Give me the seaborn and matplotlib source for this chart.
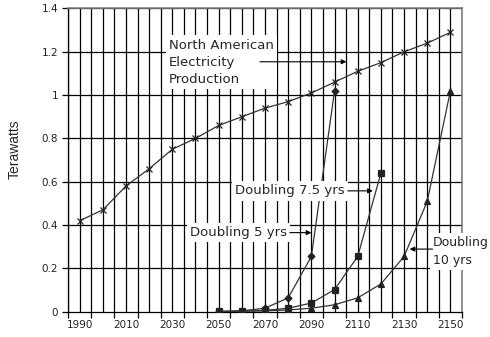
import matplotlib
matplotlib.use("Agg")
import matplotlib.pyplot as plt
import numpy as np
import pandas as pd
import seaborn as sns

# data
years = [1990, 2000, 2010, 2020, 2030, 2040, 2050, 2060, 2070, 2080,
         2090, 2100, 2110, 2120, 2130, 2140, 2150]
na_production = [0.42, 0.47, 0.58, 0.66, 0.75, 0.80, 0.86, 0.90, 0.94, 0.97,
                 1.01, 1.06, 1.11, 1.15, 1.20, 1.24, 1.29]

years_5 = [2050, 2060, 2070, 2080, 2090, 2100]
doubling_5 = [0.001, 0.004, 0.016, 0.064, 0.255, 1.02]

years_75 = [2050, 2060, 2070, 2080, 2090, 2100, 2110, 2120]
doubling_75 = [0.001, 0.0025, 0.006, 0.016, 0.040, 0.102, 0.255, 0.64]

years_10 = [2050, 2060, 2070, 2080, 2090, 2100, 2110, 2120, 2130, 2140, 2150]
doubling_10 = [0.001, 0.002, 0.004, 0.008, 0.016, 0.032, 0.064, 0.128,
               0.255, 0.51, 1.02]

x_labels = [str(y) for y in range(1990, 2151, 20)]
y_labels = ["0", "0.2", "0.4", "0.6", "0.8", "1", "1.2", "1.4"]

sns.set_theme(style="white")
plt.rcParams['font.family'] = ['DejaVu Sans']

fig = plt.figure(figsize=(4.9, 3.37), dpi=100)
ax = fig.add_axes([0.1388, 0.0751, 0.8041, 0.8997])

line_col = "#333333"
series = [
    (years, na_production, "x", 4.5),
    (years_5, doubling_5, "D", 3.5),
    (years_75, doubling_75, "s", 4.5),
    (years_10, doubling_10, "^", 4.5),
]
for xs, ys, mk, ms in series:
    df = pd.DataFrame({"year": xs, "tw": ys})
    sns.lineplot(data=df, x="year", y="tw", ax=ax, color=line_col, lw=0.9,
                 marker=mk, markersize=ms, markeredgecolor="#222222",
                 markerfacecolor="#222222", markeredgewidth=0.9, zorder=3)

# grid lines every 5 years and every 0.2 TW
ax.vlines(np.arange(1985, 2156, 5), 0, 1.4, color="black", lw=0.9, zorder=0.5)
ax.hlines(np.arange(0.2, 1.41, 0.2), 1985, 2155, color="black", lw=0.9, zorder=0.5)

ax.set_xlim(1985, 2155)
ax.set_ylim(0, 1.4)

ax.set_xticks(np.arange(1985, 2156, 10))
ax.set_xticklabels([])
ax.set_xticks(np.arange(1990, 2151, 20), minor=True)
ax.set_xticklabels(x_labels, minor=True, fontsize=7.5, color="#222222")
ax.tick_params(axis="x", which="major", direction="out", length=4, width=0.9,
               color="black", bottom=True)
ax.tick_params(axis="x", which="minor", length=0, pad=6, bottom=True)

ax.set_yticks(np.arange(0, 1.41, 0.2))
ax.set_yticklabels(y_labels, fontsize=7.5, color="#222222")
ax.tick_params(axis="y", direction="out", length=4, width=0.9, color="black",
               left=True, pad=3)

ax.set_xlabel("")
ax.set_ylabel("Terawatts", family=["Liberation Sans"], fontsize=10)
ax.yaxis.set_label_coords(-0.118, 0.535)

for side in ["left", "bottom"]:
    ax.spines[side].set_color("black")
    ax.spines[side].set_linewidth(0.9)
for side in ["top", "right"]:
    ax.spines[side].set_color("#808080")
    ax.spines[side].set_linewidth(1.2)

box = dict(boxstyle="square,pad=0.25", fc="white", ec="none")
arrow = dict(arrowstyle="-|>", color="black", lw=0.8, mutation_scale=7,
             shrinkA=0, shrinkB=0)
fs = 9.5

ax.text(2028.5, 1.152, "North American\nElectricity\nProduction", fontsize=fs,
        ha="left", va="center", bbox=box, zorder=4, linespacing=1.42)
ax.annotate("", xy=(2105.1, 1.154), xytext=(2067.8, 1.154), arrowprops=arrow,
            zorder=5)

ax.text(2057, 0.558, "Doubling 7.5 yrs", fontsize=fs, ha="left", va="center",
        bbox=box, zorder=4)
ax.annotate("", xy=(2116.5, 0.558), xytext=(2105.7, 0.558), arrowprops=arrow,
            zorder=5)

ax.text(2037.6, 0.365, "Doubling 5 yrs", fontsize=fs, ha="left", va="center",
        bbox=box, zorder=4)
ax.annotate("", xy=(2090.0, 0.365), xytext=(2080.7, 0.365), arrowprops=arrow,
            zorder=5)

ax.text(2142.4, 0.277, "Doubling\n10 yrs", fontsize=9, ha="left", va="center",
        bbox=box, zorder=4, linespacing=1.5)
ax.annotate("", xy=(2132.4, 0.289), xytext=(2142.3, 0.289), arrowprops=arrow,
            zorder=5)

fig.savefig("out.png", dpi=100)
